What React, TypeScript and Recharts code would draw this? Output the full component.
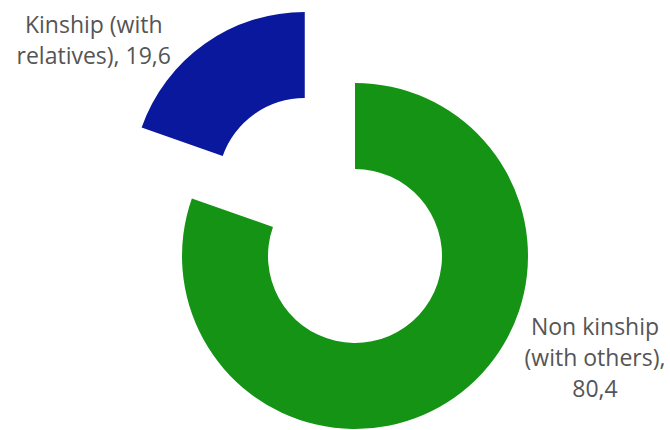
import React from "react";
import { PieChart, Pie, Cell } from "recharts";

const categories = ["Non kinship (with others)", "Kinship (with relatives)"];
const values = [80.4, 19.6];
const valueLabels = ["80,4", "19,6"];
const labelText = [
  ["Non kinship", "(with others),", valueLabels[0]],
  ["Kinship (with", "relatives), " + valueLabels[1]],
];
const colors = ["#149314", "#0a189e"];

const data = categories.map((name, i) => ({ name, value: values[i] }));

// layout
const W = 670;
const H = 430;
const CX = 355;
const CY = 256;
const OUTER = 173;
const INNER = 87;
const EXPLODE = 87;
const EXPLODED = 1;
const labelPos = [
  { dx: 240, dy: 79 },
  { dx: -211, dy: -152 },
];
const LINE_H = 31;

const total = values.reduce((a, b) => a + b, 0);
const before = values.slice(0, EXPLODED).reduce((a, b) => a + b, 0);
const midAngle = 90 - (360 * (before + values[EXPLODED] / 2)) / total;
const ox = EXPLODE * Math.cos((midAngle * Math.PI) / 180);
const oy = -EXPLODE * Math.sin((midAngle * Math.PI) / 180);

const makeLabel = (show: number) => (props: any) => {
  const { cx, cy, index } = props;
  if (index !== show) return null;
  const p = labelPos[index];
  return (
    <text
      x={cx + p.dx}
      y={cy + p.dy}
      textAnchor="middle"
      fill="#555555"
      fontSize={23}
      fontFamily="'Open Sans', sans-serif"
    >
      {labelText[index].map((line, j) => (
        <tspan key={j} x={cx + p.dx} y={cy + p.dy + j * LINE_H}>
          {line}
        </tspan>
      ))}
    </text>
  );
};

export default function App() {
  return (
    <div style={{ position: "absolute", left: 0, top: 0, width: W, height: H, background: "#fff" }}>
      <PieChart width={W} height={H} margin={{ top: 0, right: 0, bottom: 0, left: 0 }}>
        <Pie
          data={data}
          dataKey="value"
          cx={CX}
          cy={CY}
          innerRadius={INNER}
          outerRadius={OUTER}
          startAngle={90}
          endAngle={-270}
          stroke="none"
          labelLine={false}
          label={makeLabel(0)}
          isAnimationActive={false}
        >
          {data.map((d, i) => (
            <Cell key={d.name} fill={i === EXPLODED ? "none" : colors[i]} />
          ))}
        </Pie>
        <Pie
          data={data}
          dataKey="value"
          cx={CX + ox}
          cy={CY + oy}
          innerRadius={INNER}
          outerRadius={OUTER}
          startAngle={90}
          endAngle={-270}
          stroke="none"
          labelLine={false}
          label={makeLabel(EXPLODED)}
          isAnimationActive={false}
        >
          {data.map((d, i) => (
            <Cell key={d.name} fill={i === EXPLODED ? colors[i] : "none"} />
          ))}
        </Pie>
      </PieChart>
    </div>
  );
}
